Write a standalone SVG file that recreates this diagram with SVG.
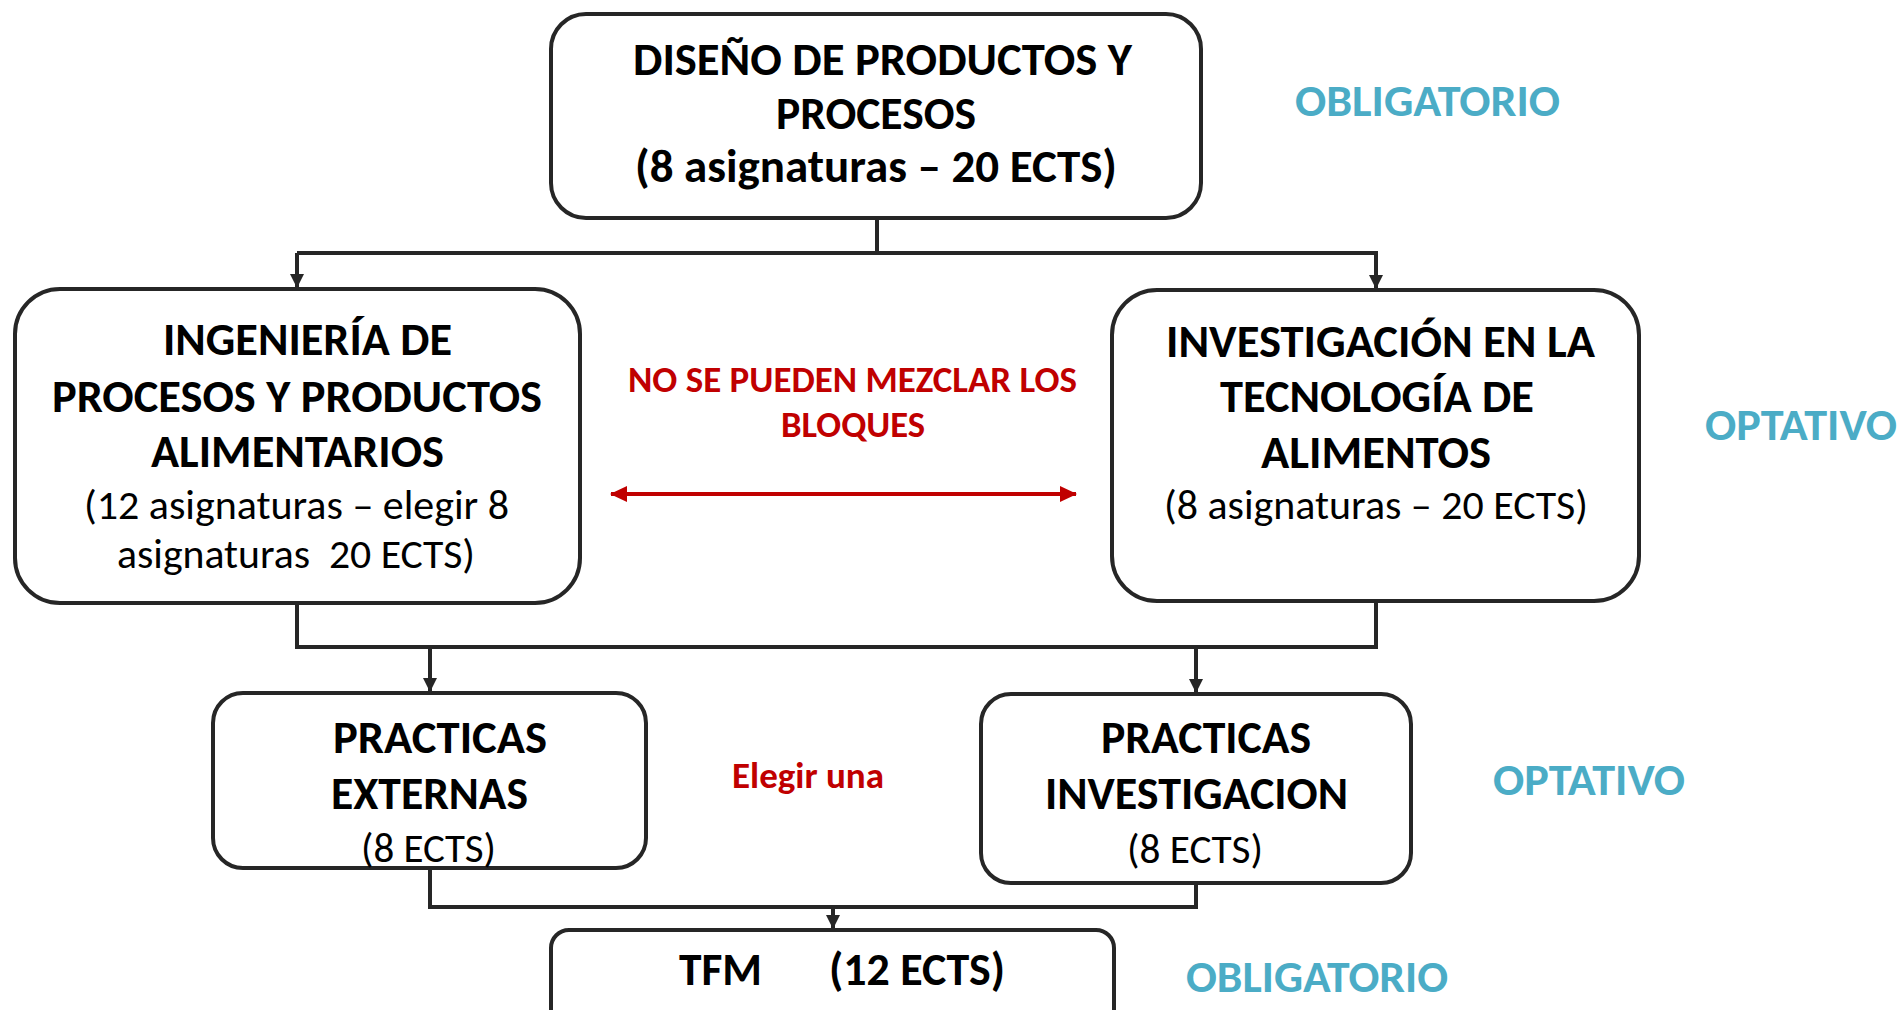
<svg xmlns="http://www.w3.org/2000/svg" width="1901" height="1010" viewBox="0 0 1901 1010">
<style>
.box{fill:#ffffff;stroke:#262626;stroke-width:4}
.t{font-family:Carlito,Lato,"Open Sans",sans-serif;fill:#000000}
.b{font-weight:bold;font-size:46px}
.r{font-weight:normal;font-size:42px}
.red{font-family:Carlito,Lato,"Open Sans",sans-serif;font-weight:bold;fill:#C00000;font-size:37px}
.lab{font-family:Carlito,Lato,"Open Sans",sans-serif;font-weight:bold;fill:#4BACC6;font-size:44px}
.con{fill:none;stroke:#262626;stroke-width:4}
.redline{fill:none;stroke:#C00000;stroke-width:4}
</style>
<defs>
<marker id="ah" markerUnits="userSpaceOnUse" markerWidth="16" markerHeight="16" viewBox="0 0 16 16" refX="14" refY="8" orient="auto">
<path d="M1,1 L15,8 L1,15 Z" fill="#262626"/>
</marker>
<marker id="rh" markerUnits="userSpaceOnUse" markerWidth="18" markerHeight="18" viewBox="0 0 18 18" refX="16" refY="9" orient="auto-start-reverse">
<path d="M0,1 L17,9 L0,17 Z" fill="#C00000"/>
</marker>
</defs>
<rect width="1901" height="1010" fill="#ffffff"/>

<g id="connectors">
<path class="con" d="M877,219 V253"/>
<path class="con" d="M297,253 H1378"/>
<path class="con" d="M297,253 V287" marker-end="url(#ah)"/>
<path class="con" d="M1376,253 V288" marker-end="url(#ah)"/>
<path class="con" d="M297,604 V647 H1378"/>
<path class="con" d="M1376,602 V647"/>
<path class="con" d="M430,647 V691" marker-end="url(#ah)"/>
<path class="con" d="M1196,647 V692" marker-end="url(#ah)"/>
<path class="con" d="M430,869 V907 H1198"/>
<path class="con" d="M1196,884 V907"/>
<path class="con" d="M833,907 V928" marker-end="url(#ah)"/>
<path class="redline" d="M611,494 H1076" marker-start="url(#rh)" marker-end="url(#rh)"/>
</g>

<g id="node-diseno">
<rect class="box" x="551" y="14" width="650" height="204" rx="35"/>
<text class="t b" x="633" y="75" textLength="499" lengthAdjust="spacingAndGlyphs">DISEÑO DE PRODUCTOS Y</text>
<text class="t b" x="776" y="129" textLength="200" lengthAdjust="spacingAndGlyphs">PROCESOS</text>
<text class="t b" x="635" y="182" textLength="482" lengthAdjust="spacingAndGlyphs">(8 asignaturas – 20 ECTS)</text>
</g>

<g id="label-obligatorio-1">
<text class="lab" x="1295" y="116" textLength="265" lengthAdjust="spacingAndGlyphs">OBLIGATORIO</text>
</g>

<g id="node-ingenieria">
<rect class="box" x="15" y="289" width="565" height="314" rx="45"/>
<text class="t b" x="163" y="355" textLength="289" lengthAdjust="spacingAndGlyphs">INGENIERÍA DE</text>
<text class="t b" x="52" y="412" textLength="490" lengthAdjust="spacingAndGlyphs">PROCESOS Y PRODUCTOS</text>
<text class="t b" x="151" y="467" textLength="293" lengthAdjust="spacingAndGlyphs">ALIMENTARIOS</text>
<text class="t r" x="84" y="519" textLength="425" lengthAdjust="spacingAndGlyphs">(12 asignaturas – elegir 8</text>
<text class="t r" x="117" y="568" textLength="358" lengthAdjust="spacingAndGlyphs">asignaturas&#160; 20 ECTS)</text>
</g>

<g id="node-investigacion">
<rect class="box" x="1112" y="290" width="527" height="311" rx="45"/>
<text class="t b" x="1166" y="357" textLength="429" lengthAdjust="spacingAndGlyphs">INVESTIGACIÓN EN LA</text>
<text class="t b" x="1220" y="412" textLength="314" lengthAdjust="spacingAndGlyphs">TECNOLOGÍA DE</text>
<text class="t b" x="1261" y="468" textLength="230" lengthAdjust="spacingAndGlyphs">ALIMENTOS</text>
<text class="t r" x="1164" y="519" textLength="424" lengthAdjust="spacingAndGlyphs">(8 asignaturas – 20 ECTS)</text>
</g>

<g id="label-optativo-1">
<text class="lab" x="1705" y="440" textLength="192" lengthAdjust="spacingAndGlyphs">OPTATIVO</text>
</g>

<g id="note-no-mezclar">
<text class="red" x="628" y="392" textLength="449" lengthAdjust="spacingAndGlyphs">NO SE PUEDEN MEZCLAR LOS</text>
<text class="red" x="781" y="437" textLength="144" lengthAdjust="spacingAndGlyphs">BLOQUES</text>
</g>

<g id="node-practicas-externas">
<rect class="box" x="213" y="693" width="433" height="175" rx="30"/>
<text class="t b" x="333" y="753" textLength="214" lengthAdjust="spacingAndGlyphs">PRACTICAS</text>
<text class="t b" x="331" y="809" textLength="197" lengthAdjust="spacingAndGlyphs">EXTERNAS</text>
<text class="t r" x="361" y="862" textLength="135" lengthAdjust="spacingAndGlyphs">(8 ECTS)</text>
</g>

<g id="note-elegir">
<text class="red" x="732" y="788" textLength="152" lengthAdjust="spacingAndGlyphs">Elegir una</text>
</g>

<g id="node-practicas-investigacion">
<rect class="box" x="981" y="694" width="430" height="189" rx="30"/>
<text class="t b" x="1101" y="753" textLength="210" lengthAdjust="spacingAndGlyphs">PRACTICAS</text>
<text class="t b" x="1045" y="809" textLength="303" lengthAdjust="spacingAndGlyphs">INVESTIGACION</text>
<text class="t r" x="1127" y="863" textLength="136" lengthAdjust="spacingAndGlyphs">(8 ECTS)</text>
</g>

<g id="label-optativo-2">
<text class="lab" x="1493" y="795" textLength="192" lengthAdjust="spacingAndGlyphs">OPTATIVO</text>
</g>

<g id="node-tfm">
<rect class="box" x="551" y="930" width="563" height="110" rx="18"/>
<text class="t b" x="679" y="985" textLength="83" lengthAdjust="spacingAndGlyphs">TFM</text>
<text class="t b" x="829" y="985" textLength="176" lengthAdjust="spacingAndGlyphs">(12 ECTS)</text>
</g>

<g id="label-obligatorio-2">
<text class="lab" x="1186" y="992" textLength="262" lengthAdjust="spacingAndGlyphs">OBLIGATORIO</text>
</g>
</svg>
